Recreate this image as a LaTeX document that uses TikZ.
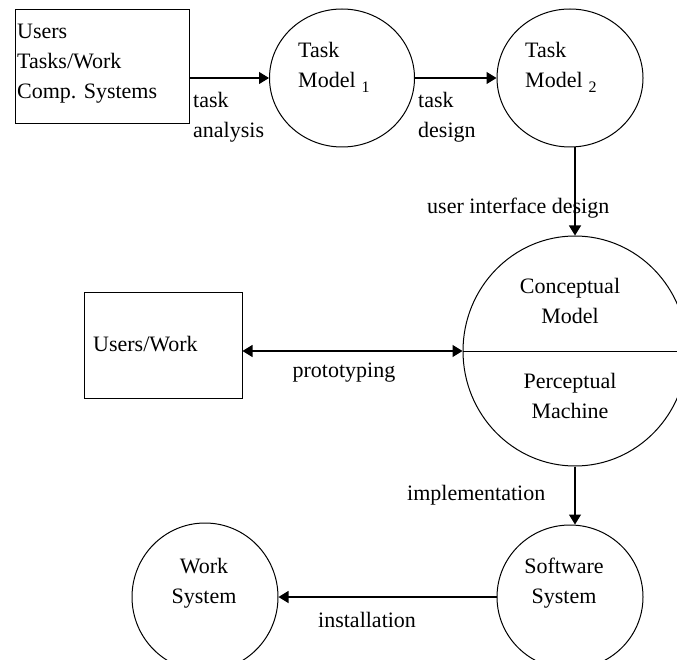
\documentclass[tikz,border=0pt]{standalone}
\usepackage{fontspec}
\setmainfont{Liberation Serif}
\usetikzlibrary{arrows.meta,shapes.geometric}
\begin{document}
\begin{tikzpicture}[x=1pt,y=-1pt,
  shapeline/.style={draw=black, line width=1pt},
  boxnode/.style={shapeline, rectangle, inner sep=0pt},
  ell/.style={shapeline, ellipse, inner sep=0pt},
  tip/.tip={Triangle[length=10pt,width=12pt]},
  conn/.style={draw=black, line width=1.2pt, -tip},
  dconn/.style={draw=black, line width=1.2pt, tip-tip},
  txt/.style={inner sep=0pt, font=\fontsize{22}{30}\selectfont, align=left, anchor=north west},
  ctxt/.style={inner sep=0pt, font=\fontsize{22}{30}\selectfont, align=center, anchor=north},
]
\useasboundingbox (0,0) rectangle (677,660);
\clip (0,0) rectangle (677,660);
\fill[white] (0,0) rectangle (677,660);

% shapes
\node[boxnode, minimum width=174pt, minimum height=114pt] (b1) at (102,67) {};
\node[ell, minimum width=145pt, minimum height=138pt] (c1) at (342,78) {};
\node[ell, minimum width=146pt, minimum height=138pt] (c2) at (570,78) {};
\node[ell, minimum width=224pt, minimum height=230pt] (big) at (575,351) {};
\node[boxnode, minimum width=158pt, minimum height=106pt] (b2) at (163,345) {};
\node[ell, minimum width=146pt, minimum height=144pt] (sw) at (570,597) {};
\node[ell, minimum width=146pt, minimum height=148pt] (ws) at (205,597) {};

% divider of the big circle
\draw[shapeline] (big.west) -- (big.east);

% connectors
\draw[conn] (b1.east |- c1.west) -- (c1.west);
\draw[conn] (c1.east) -- (c2.west);
\draw[conn] (c2.south -| big.north) -- (big.north);
\draw[dconn] (b2.east |- big.west) -- (big.west);
\draw[conn] (big.south) -- (big.south |- sw.north);
\draw[conn] (sw.west) -- (ws.east);

% texts
\node[txt] (t1) at (17,17) {\strut Users\\\strut Tasks/Work\\\strut Comp. Systems};
\node[txt] (tm1) at (298,36) {\strut Task\\\strut Model\hspace{6pt}\raisebox{-5pt}{\fontsize{16}{16}\selectfont 1}};
\node[txt] (tm2) at (525,36) {\strut Task\\\strut Model\hspace{6pt}\raisebox{-5pt}{\fontsize{16}{16}\selectfont 2}};
\node[txt] (la) at (193,86) {\strut task\\\strut analysis};
\node[txt] (ld) at (418,86) {\strut task\\\strut design};
\node[txt] (lu) at (427,192) {\strut user interface design};
\node[ctxt] (cm) at (570,272) {\strut Conceptual\\\strut Model};
\node[ctxt] (pm) at (570,367) {\strut Perceptual\\\strut Machine};
\node[txt] (uw) at (93,330) {\strut Users/Work};
\node[ctxt] (lp) at (344,356) {\strut prototyping};
\node[txt] (li) at (407,479) {\strut implementation};
\node[txt] (lin) at (318,606) {\strut installation};
\node[ctxt] (wst) at (204,552) {\strut Work\\\strut System};
\node[ctxt] (sst) at (564,552) {\strut Software\\\strut System};
\end{tikzpicture}
\end{document}
